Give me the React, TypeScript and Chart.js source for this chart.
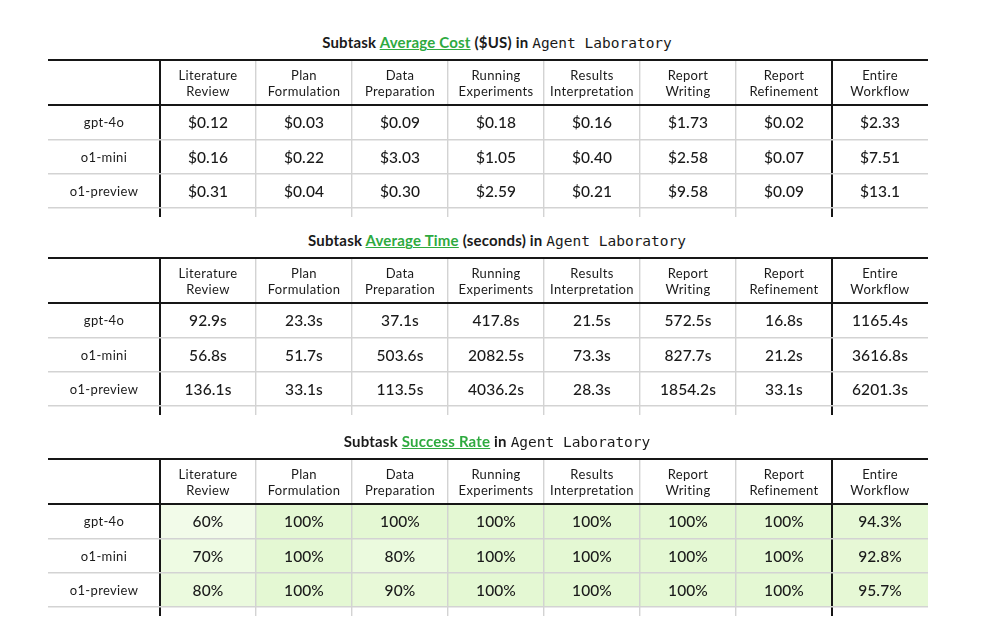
import React, { useEffect, useRef } from 'react';
import { Chart, registerables } from 'chart.js';

Chart.register(...registerables);

// ---------- data ----------
const SUBTASKS: string[][] = [
  ['Literature', 'Review'],
  ['Plan', 'Formulation'],
  ['Data', 'Preparation'],
  ['Running', 'Experiments'],
  ['Results', 'Interpretation'],
  ['Report', 'Writing'],
  ['Report', 'Refinement'],
  ['Entire', 'Workflow'],
];
const MODELS = ['gpt-4o', 'o1-mini', 'o1-preview'];

const COST_GPT4O = [0.12, 0.03, 0.09, 0.18, 0.16, 1.73, 0.02, 2.33];
const COST_O1MINI = [0.16, 0.22, 3.03, 1.05, 0.4, 2.58, 0.07, 7.51];
const COST_O1PREVIEW = [0.31, 0.04, 0.3, 2.59, 0.21, 9.58, 0.09, 13.1];

const TIME_GPT4O = [92.9, 23.3, 37.1, 417.8, 21.5, 572.5, 16.8, 1165.4];
const TIME_O1MINI = [56.8, 51.7, 503.6, 2082.5, 73.3, 827.7, 21.2, 3616.8];
const TIME_O1PREVIEW = [136.1, 33.1, 113.5, 4036.2, 28.3, 1854.2, 33.1, 6201.3];

const SUCCESS_GPT4O = [60, 100, 100, 100, 100, 100, 100, 94.3];
const SUCCESS_O1MINI = [70, 100, 80, 100, 100, 100, 100, 92.8];
const SUCCESS_O1PREVIEW = [80, 100, 90, 100, 100, 100, 100, 95.7];

const TITLE_COST = ['Subtask ', 'Average Cost', ' ($US) in ', 'Agent Laboratory'];
const TITLE_TIME = ['Subtask ', 'Average Time', ' (seconds) in ', 'Agent Laboratory'];
const TITLE_SUCCESS = ['Subtask ', 'Success Rate', ' in ', 'Agent Laboratory'];

// ---------- style ----------
const FONT = 'Lato, "Open Sans", "DejaVu Sans", sans-serif';
const MONO = '"DejaVu Sans Mono", "Liberation Mono", monospace';
const GREEN_TEXT = '#2eaa3f';
const LINE_DARK = '#161616';
const LINE_LIGHT = '#d3d3d3';
const TEXT = '#1a1a1a';

const fmtCost = (v: number) => '$' + (v >= 10 ? v.toFixed(1) : v.toFixed(2));
const fmtTime = (v: number) => v.toFixed(1) + 's';
const fmtPct = (v: number) => `${v}%`;
const noFill = (_v: number) => 'rgba(0,0,0,0)';
const greenFill = (v: number) => `rgba(176,234,124,${(0.17 + (v - 60) * 0.0042).toFixed(3)})`;

type TableProps = {
  top: number;
  title: string[];
  rows: number[][];
  fmt: (v: number) => string;
  fill: (v: number) => string;
};

function DataTable({ top, title, rows, fmt, fill }: TableProps) {
  const ref = useRef<HTMLCanvasElement | null>(null);

  useEffect(() => {
    const canvas = ref.current;
    if (!canvas) return;
    const lastCol = SUBTASKS.length - 1;

    const vColor = (ctx: any) =>
      ctx.type !== 'tick' ? 'rgba(0,0,0,0)' : ctx.index === 0 || ctx.index === lastCol ? LINE_DARK : LINE_LIGHT;
    const vWidth = (ctx: any) => (ctx.type === 'tick' && (ctx.index === 0 || ctx.index === lastCol) ? 2 : 1.4);
    const hColor = (ctx: any) => (ctx.tick && ctx.tick.value === 0 ? LINE_DARK : LINE_LIGHT);
    const hWidth = (ctx: any) => (ctx.tick && ctx.tick.value === 0 ? 2 : 1.4);

    const textPlugin = {
      id: 'tableText',
      afterDraw(chart: any) {
        const { ctx, chartArea } = chart;
        const xs = chart.scales.x;
        const ys = chart.scales.y;
        ctx.save();
        // top rule
        ctx.strokeStyle = LINE_DARK;
        ctx.lineWidth = 2;
        ctx.beginPath();
        ctx.moveTo(ys.left, xs.top);
        ctx.lineTo(chartArea.right, xs.top);
        ctx.stroke();

        ctx.fillStyle = TEXT;
        ctx.textAlign = 'center';
        ctx.textBaseline = 'middle';
        // header
        ctx.font = `400 13px ${FONT}`;
        try { (ctx as any).letterSpacing = '0.35px'; } catch (e) { /* ignore */ }
        const hy = (xs.top + xs.bottom) / 2 + 1;
        SUBTASKS.forEach((lines, i) => {
          const x = xs.getPixelForValue(i);
          lines.forEach((t, k) => ctx.fillText(t, x, hy + (k - (lines.length - 1) / 2) * 16));
        });
        // row labels
        MODELS.forEach((m, r) => ctx.fillText(m, (ys.left + ys.right) / 2, ys.getPixelForValue(r + 0.5) + 1));
        // values
        ctx.font = `500 15.5px ${FONT}`;
        try { (ctx as any).letterSpacing = '0.1px'; } catch (e) { /* ignore */ }
        chart.data.datasets.forEach((ds: any, r: number) => {
          ds.values.forEach((v: number, i: number) => {
            ctx.fillText(fmt(v), xs.getPixelForValue(i), ys.getPixelForValue(r + 0.5) + 1);
          });
        });
        ctx.restore();
      },
    };

    const chart = new Chart(canvas, {
      type: 'bar',
      data: {
        labels: SUBTASKS.map((s) => s.join(' ')),
        datasets: rows.map((vals, r) => ({
          label: MODELS[r],
          values: vals,
          data: vals.map(() => [r, r + 1]),
          backgroundColor: (c: any) => fill(vals[c.dataIndex]),
          borderWidth: 0,
          grouped: false,
          barPercentage: 1,
          categoryPercentage: 1,
          xAxisID: 'x',
          yAxisID: 'y',
        })) as any,
      },
      options: {
        responsive: false,
        animation: false,
        events: [],
        layout: { padding: { left: 48, right: 53, top: 60, bottom: 8 } },
        plugins: { legend: { display: false }, tooltip: { enabled: false }, title: { display: false } },
        scales: {
          x: {
            type: 'category',
            position: 'top',
            offset: true,
            border: { display: false },
            ticks: { display: false },
            grid: { offset: true, z: 1, drawTicks: true, tickLength: 45, color: vColor, lineWidth: vWidth },
            afterFit: (s: any) => {
              s.height = 45;
            },
          },
          x2: {
            type: 'category',
            axis: 'x',
            position: 'bottom',
            offset: true,
            border: { display: false },
            ticks: { display: false },
            grid: { offset: true, z: 1, drawOnChartArea: false, drawTicks: true, tickLength: 9, color: vColor, lineWidth: vWidth },
            afterFit: (s: any) => {
              s.height = 9;
            },
          },
          y: {
            type: 'linear',
            position: 'left',
            min: 0,
            max: MODELS.length,
            reverse: true,
            border: { display: false },
            ticks: { display: false, stepSize: 1 },
            grid: { z: 1, drawTicks: true, tickLength: 112, color: hColor, lineWidth: hWidth },
            afterFit: (s: any) => {
              s.width = 112;
            },
          },
        },
      } as any,
      plugins: [textPlugin],
    });
    return () => chart.destroy();
  }, [rows, fmt, fill]);

  return (
    <>
      <div
        style={{
          position: 'absolute',
          left: 0,
          top: top + 32,
          width: 994,
          textAlign: 'center',
          fontFamily: FONT,
          fontWeight: 700,
          fontSize: 15,
          lineHeight: '20px',
          letterSpacing: '0.2px',
          color: TEXT,
          whiteSpace: 'pre',
        }}
      >
        {title[0]}
        <span style={{ color: GREEN_TEXT, textDecoration: 'underline', textDecorationThickness: '1px' }}>{title[1]}</span>
        {title[2]}
        <span style={{ fontFamily: MONO, fontWeight: 400, fontSize: 14.5, letterSpacing: 0 }}>{title[3]}</span>
      </div>
      <canvas
        ref={ref}
        width={981}
        height={225}
        style={{ position: 'absolute', left: 0, top, width: 981, height: 225 }}
      />
    </>
  );
}

const COST_ROWS = [COST_GPT4O, COST_O1MINI, COST_O1PREVIEW];
const TIME_ROWS = [TIME_GPT4O, TIME_O1MINI, TIME_O1PREVIEW];
const SUCCESS_ROWS = [SUCCESS_GPT4O, SUCCESS_O1MINI, SUCCESS_O1PREVIEW];

export default function App() {
  return (
    <div
      style={{
        position: 'fixed',
        left: 0,
        top: 0,
        width: 981,
        height: 637,
        background: '#ffffff',
        overflow: 'hidden',
      }}
    >
      <DataTable top={0} title={TITLE_COST} rows={COST_ROWS} fmt={fmtCost} fill={noFill} />
      <DataTable top={198} title={TITLE_TIME} rows={TIME_ROWS} fmt={fmtTime} fill={noFill} />
      <DataTable top={399} title={TITLE_SUCCESS} rows={SUCCESS_ROWS} fmt={fmtPct} fill={greenFill} />
    </div>
  );
}
